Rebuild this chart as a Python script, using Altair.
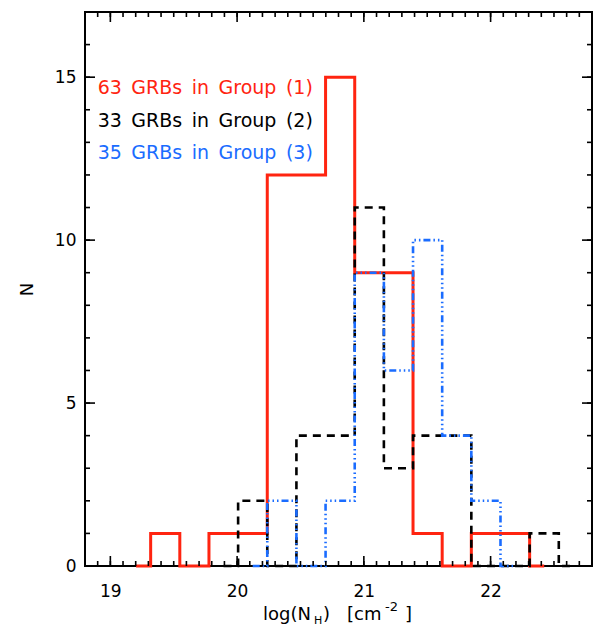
import altair as alt
import pandas as pd

# ---- data ----
# bin centres of log(N_H), shared by the three histograms
centers = [19.203, 19.433, 19.663, 19.893, 20.123, 20.353, 20.583, 20.813,
           21.043, 21.273, 21.503, 21.733, 21.963, 22.193, 22.423, 22.653]
red_counts = [0, 1, 0, 1, 1, 12, 12, 15, 9, 9, 1, 0, 1, 1, 0]      # centres 0..14
black_counts = [0, 2, 0, 4, 4, 11, 3, 4, 4, 0, 0, 1, 0]            # centres 3..15
blue_counts = [0, 2, 0, 2, 9, 6, 10, 4, 2, 0]                      # centres 4..13

SP = "\u2002"  # wide space, as in the original lettering
legend_labels = [SP.join(["63", "GRBs", "in", "Group", "(1)"]),
                 SP.join(["33", "GRBs", "in", "Group", "(2)"]),
                 SP.join(["35", "GRBs", "in", "Group", "(3)"])]
legend_y = [14.67, 13.67, 12.68]
legend_x = [18.9, 18.9, 18.9]

x_major = [19, 20, 21, 22]
x_minor = [round(18.8 + 0.1 * i, 1) for i in range(1, 40)]
y_major = [0, 5, 10, 15]
y_minor = list(range(1, 17))

RED = "#ff2410"
BLUE = "#1a6cff"
BLACK = "#000000"
FONT = "DejaVu Sans"

W, H = 507, 554
xs = alt.Scale(domain=[18.8, 22.8], nice=False, zero=False)
ys = alt.Scale(domain=[0, 17], nice=False, zero=False)

x_axis = alt.Axis(values=x_major, ticks=False, domain=False, grid=False,
                  labelFontSize=17, labelPadding=17, labelColor="black",
                  labelFont=FONT, title=None)
y_axis = alt.Axis(values=y_major, ticks=False, domain=False, grid=False,
                  labelFontSize=17, labelPadding=9, labelColor="black",
                  labelFont=FONT, title="N", titleFont=FONT, titleFontSize=18,
                  titleFontWeight="normal", titleColor="black", titlePadding=18)

X = lambda f: alt.X(f, scale=xs, axis=x_axis)
Y = lambda f: alt.Y(f, scale=ys, axis=y_axis)

red_df = pd.DataFrame({"x": centers[0:15], "n": red_counts})
black_df = pd.DataFrame({"x": centers[3:16], "n": black_counts})
blue_df = pd.DataFrame({"x": centers[4:14], "n": blue_counts})

red = alt.Chart(red_df).mark_line(interpolate="step", color=RED, strokeWidth=3).encode(
    x=X("x:Q"), y=Y("n:Q"))
black = alt.Chart(black_df).mark_line(interpolate="step", color=BLACK, strokeWidth=2.6,
                                      strokeDash=[8, 6]).encode(x=X("x:Q"), y=Y("n:Q"))
blue = alt.Chart(blue_df).mark_line(interpolate="step", color=BLUE, strokeWidth=2.6,
                                    strokeDash=[7, 3, 1.5, 3, 1.5, 3, 1.5, 3]).encode(
    x=X("x:Q"), y=Y("n:Q"))

# ---- inward tick marks on all four sides ----
def xticks(vals, length):
    df = pd.DataFrame({"v": vals})
    base = alt.Chart(df).mark_rule(color="black", strokeWidth=1.6)
    bottom = base.encode(x=X("v:Q"), y=alt.value(H), y2=alt.value(H - length))
    top = base.encode(x=X("v:Q"), y=alt.value(0), y2=alt.value(length))
    return [bottom, top]

def yticks(vals, length):
    df = pd.DataFrame({"v": vals})
    base = alt.Chart(df).mark_rule(color="black", strokeWidth=1.6)
    left = base.encode(y=Y("v:Q"), x=alt.value(0), x2=alt.value(length))
    right = base.encode(y=Y("v:Q"), x=alt.value(W), x2=alt.value(W - length))
    return [left, right]

ticks = xticks(x_minor, 5) + xticks(x_major, 10) + yticks(y_minor, 5) + yticks(y_major, 10)

# ---- legend text ----
leg_df = pd.DataFrame({"label": legend_labels, "x": legend_x, "y": legend_y,
                       "grp": ["1", "2", "3"]})
legend = alt.Chart(leg_df).mark_text(align="left", baseline="middle", fontSize=19,
                                     font=FONT).encode(
    x=X("x:Q"), y=Y("y:Q"),
    text="label:N",
    color=alt.Color("grp:N", scale=alt.Scale(domain=["1", "2", "3"],
                                             range=[RED, BLACK, BLUE]), legend=None))

# ---- x axis title log(N_H) [cm^-2] built from pieces ----
title_parts = ["log(N", "H", ")", "[cm", "-2", "]"]
title_px = [178, 229, 238, 262, 300, 320]
title_py = [608, 612, 608, 608, 599, 608]
title_fs = [18, 11, 18, 18, 13, 18]
title_layers = []
for t, px, py, fs in zip(title_parts, title_px, title_py, title_fs):
    title_layers.append(
        alt.Chart(pd.DataFrame({"t": [t]})).mark_text(
            align="left", baseline="alphabetic", fontSize=fs, font=FONT, color="black"
        ).encode(text="t:N", x=alt.value(px), y=alt.value(py)))

chart = alt.layer(red, black, blue, *ticks, legend, *title_layers).properties(
    width=W, height=H,
    background="white",
    autosize=alt.AutoSizeParams(type="none"),
    padding={"left": 85, "top": 12, "right": 15, "bottom": 64},
).configure_view(stroke="black", strokeWidth=2, strokeOpacity=1)

chart.save("out.html", embed_options={"renderer": "svg", "actions": False})
